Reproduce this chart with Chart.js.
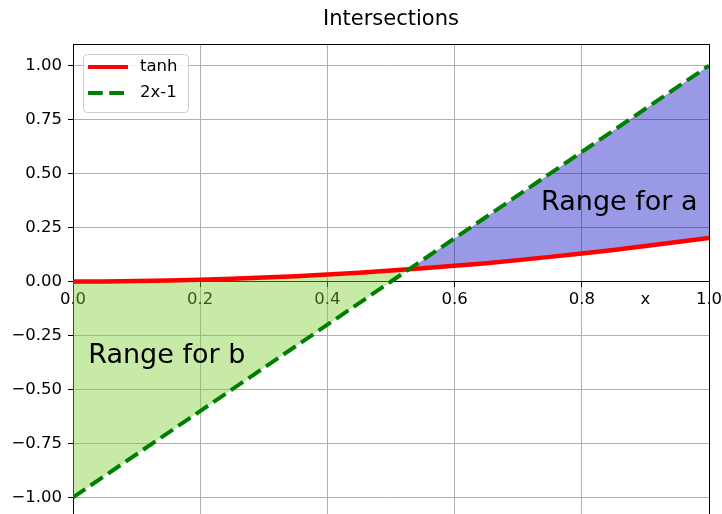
<!DOCTYPE html>
<html>
<head>
<meta charset="utf-8">
<script src="https://cdn.jsdelivr.net/npm/chart.js"></script>
<style>
  html, body { margin: 0; padding: 0; background: #fff; overflow: hidden; }
  #wrap { width: 722px; height: 519px; }
</style>
</head>
<body>
<div id="wrap"><canvas id="chart" width="722" height="519"></canvas></div>
<script>
// --- data ---
const xValues = [0, 0.05, 0.1, 0.15, 0.2, 0.25, 0.3, 0.35, 0.4, 0.45, 0.5,
  0.55, 0.6, 0.65, 0.7, 0.75, 0.8, 0.85, 0.9, 0.95, 1.0];
const tanhValues = [0, 0.0005, 0.002, 0.0045, 0.008, 0.0125, 0.018, 0.0245, 0.032, 0.041, 0.051,
  0.061, 0.073, 0.085, 0.099, 0.114, 0.130, 0.146, 0.164, 0.183, 0.202];
const lineValues = [-1.0, -0.9, -0.8, -0.7, -0.6, -0.5, -0.4, -0.3, -0.2, -0.1, 0.0,
  0.1, 0.2, 0.3, 0.4, 0.5, 0.6, 0.7, 0.8, 0.9, 1.0];
const xTicks = [0, 0.2, 0.4, 0.6, 0.8, 1.0];
const yTicks = [-1.0, -0.75, -0.5, -0.25, 0, 0.25, 0.5, 0.75, 1.0];
const seriesLabels = ["tanh", "2x-1"];
const annotations = [
  { text: "Range for a", x: 0.736, y: 0.331 },
  { text: "Range for b", x: 0.024, y: -0.378 },
];

const FONT = "'DejaVu Sans', sans-serif";
const RED = "#ff0000";
const GREEN = "#008000";
const DASH = [14.8, 6.4];

const toPoints = (ys) => xValues.map((x, i) => ({ x: x, y: ys[i] }));

// top/right spines, x label, text annotations and legend
const extras = {
  id: "extras",
  afterDatasetsDraw(chart) {
    const { ctx, scales } = chart;
    ctx.save();
    ctx.fillStyle = "#000";
    ctx.font = "27px " + FONT;
    ctx.textAlign = "left";
    ctx.textBaseline = "alphabetic";
    annotations.forEach((t) => {
      ctx.fillText(t.text, scales.x.getPixelForValue(t.x), scales.y.getPixelForValue(t.y));
    });
    ctx.restore();
  },
  afterDraw(chart) {
    const { ctx, chartArea: a, scales } = chart;
    ctx.save();
    // spines
    ctx.strokeStyle = "#000";
    ctx.lineWidth = 1;
    ctx.beginPath();
    ctx.moveTo(a.left, a.top + 0.5);
    ctx.lineTo(a.right + 0.5, a.top + 0.5);
    ctx.lineTo(a.right + 0.5, a.bottom);
    ctx.stroke();

    // x label
    ctx.fillStyle = "#000";
    ctx.font = "16.5px " + FONT;
    ctx.textAlign = "center";
    ctx.textBaseline = "middle";
    ctx.fillText("x", scales.x.getPixelForValue(0.9), scales.y.getPixelForValue(0) + 18);

    // legend
    const lx = 83, ly = 54, lw = 105, lh = 58;
    ctx.beginPath();
    ctx.roundRect(lx + 0.5, ly + 0.5, lw, lh, 4);
    ctx.fillStyle = "rgba(255,255,255,0.8)";
    ctx.fill();
    ctx.strokeStyle = "#cccccc";
    ctx.stroke();

    const items = [
      { label: seriesLabels[0], color: RED, dash: [] },
      { label: seriesLabels[1], color: GREEN, dash: DASH },
    ];
    items.forEach((it, i) => {
      const y = 67 + i * 26;
      ctx.beginPath();
      ctx.setLineDash(it.dash);
      ctx.strokeStyle = it.color;
      ctx.lineWidth = 4;
      ctx.moveTo(88, y);
      ctx.lineTo(128, y);
      ctx.stroke();
      ctx.setLineDash([]);
      ctx.fillStyle = "#000";
      ctx.font = "16.5px " + FONT;
      ctx.textAlign = "left";
      ctx.textBaseline = "middle";
      ctx.fillText(it.label, 140, y);
    });
    ctx.restore();
  },
};

new Chart(document.getElementById("chart"), {
  type: "line",
  data: {
    datasets: [
      {
        label: seriesLabels[0],
        data: toPoints(tanhValues),
        borderColor: RED,
        borderWidth: 4.5,
        pointRadius: 0,
        order: 1,
        fill: {
          target: 1,
          above: "rgba(124,204,46,0.42)",
          below: "rgba(0,0,192,0.4)",
        },
      },
      {
        label: seriesLabels[1],
        data: toPoints(lineValues),
        borderColor: GREEN,
        borderWidth: 4,
        borderDash: DASH,
        pointRadius: 0,
        order: 0,
        fill: false,
      },
    ],
  },
  options: {
    responsive: false,
    animation: false,
    layout: { padding: { top: 0, left: 0, right: 13, bottom: 0 } },
    plugins: {
      legend: { display: false },
      tooltip: { enabled: false },
      title: {
        display: true,
        text: "Intersections",
        fullSize: false,
        color: "#000",
        font: { family: FONT, size: 21, weight: "normal", lineHeight: 1.2 },
        padding: { top: 7, bottom: 11.8 },
      },
    },
    scales: {
      x: {
        type: "linear",
        min: 0,
        max: 1,
        position: { y: 0 },
        afterBuildTicks: (s) => { s.ticks = xTicks.map((v) => ({ value: v })); },
        afterFit: (s) => { s.paddingLeft = 0; s.paddingRight = 0; s.paddingTop = 0; s.paddingBottom = 0; },
        ticks: {
          color: "#000",
          font: { family: FONT, size: 16.5 },
          padding: 3,
          maxRotation: 0,
          callback: (v) => v.toFixed(1),
        },
        grid: { color: "#b0b0b0", lineWidth: 1, tickLength: 5, tickColor: "#000" },
        border: { display: true, color: "#000", width: 1 },
      },
      y: {
        type: "linear",
        min: -1.1,
        max: 1.1,
        afterBuildTicks: (s) => { s.ticks = yTicks.map((v) => ({ value: v })); },
        afterFit: (s) => { s.width = 73; s.paddingTop = 0; s.paddingBottom = 0; },
        ticks: {
          color: "#000",
          font: { family: FONT, size: 16.5 },
          padding: 6,
          callback: (v) => (v < 0 ? "\u2212" : "") + Math.abs(v).toFixed(2),
        },
        grid: { color: "#b0b0b0", lineWidth: 1, tickLength: 5, tickColor: "#000" },
        border: { display: true, color: "#000", width: 1 },
      },
    },
  },
  plugins: [extras],
});
</script>
</body>
</html>
